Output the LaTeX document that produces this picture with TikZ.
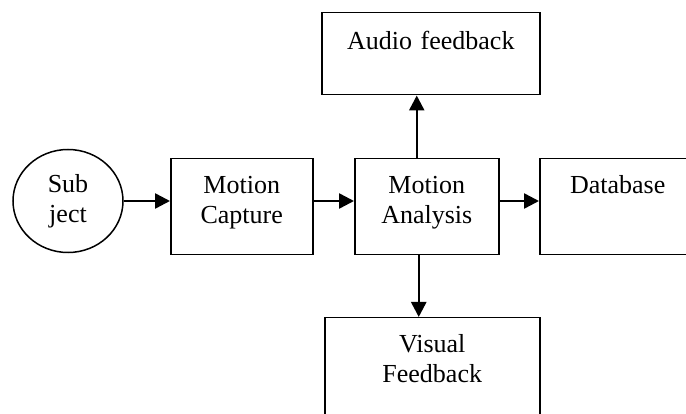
\documentclass[tikz,border=0pt]{standalone}
\usepackage{fontspec}
\setmainfont{Liberation Serif}
\usetikzlibrary{arrows.meta,shapes.geometric}

\begin{document}
\begin{tikzpicture}[x=1pt, y=-1pt, >={Triangle[length=15pt,width=15pt]}]
	\useasboundingbox (0,0) rectangle (686,414);
	\tikzstyle{every node} = [font=\fontsize{26}{30}\selectfont, align=center]
	\tikzstyle{block} = [draw, line width=1.5pt, rectangle, inner sep=0pt, anchor=north west, text height=35pt, text depth=61pt]
	\tikzstyle{flow} = [line width=2.5pt]
	\node [draw, line width=1.5pt, ellipse, inner sep=0pt, minimum width=110pt, minimum height=103pt] (Subject) at (68, 201) {Sub\\ject};
	\node [block, text width=142pt] (Capture) at (170, 158) {Motion\\Capture};
	\node [block, text width=144pt] (Analysis) at (354, 158) {Motion\\Analysis};
	\node [block, text width=156pt] (Database) at (539, 158) {Database};
	\node [block, text width=218pt, text height=37pt, text depth=45pt] (Audio) at (321, 12) {Audio feedback};
	\node [block, text width=215pt, text depth=110pt] (Visual) at (324, 317) {Visual\\Feedback};
	\draw [flow, ->] (Subject.east) -- (Subject.east -| Capture.west);
	\draw [flow, ->] (Capture.east |- Subject.east) -- (Analysis.west |- Subject.east);
	\draw [flow, ->] (Analysis.east |- Subject.east) -- (Database.west |- Subject.east);
	\draw [flow, ->] ([xshift=-10pt]Analysis.north) -- ([xshift=-10pt]Analysis.north |- Audio.south);
	\draw [flow, ->] ([xshift=-8pt]Analysis.south) -- ([xshift=-8pt]Analysis.south |- Visual.north);
\end{tikzpicture}
\end{document}
